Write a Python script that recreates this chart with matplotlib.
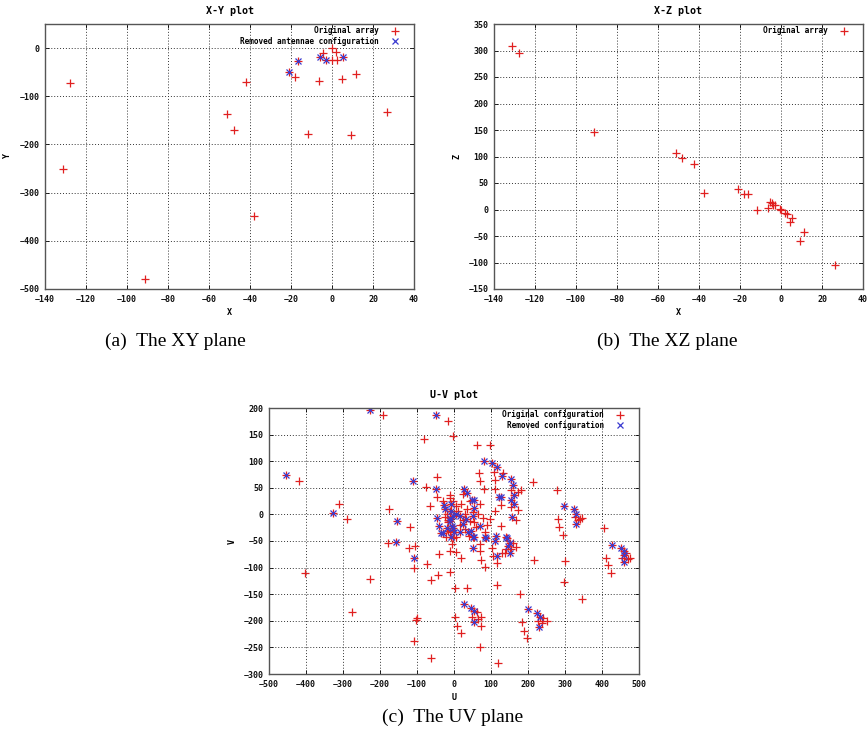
import matplotlib
matplotlib.use('Agg')
import matplotlib.pyplot as plt

# antenna positions, X-Y plane (original array, removed ones are in it too)
xy_x = [-131, -128, -91, -51, -48, -42, -38, -21, -18, -16.4, -11.6, -6.2,
        -5.9, -4.2, -3.1, -0.2, -0.2, 1.9, 2.6, 4.7, 5.2, 9.1, 11.7, 26.7]
xy_y = [-250, -73, -479, -137, -169, -71, -349, -50, -59, -26, -178, -68,
        -18, -10, -24, 0, -25, -8, -24, -64, -19, -181, -53, -133]
xy_removed_x = [-21, -16.4, -5.9, -3.1, 5.2]
xy_removed_y = [-50, -26, -18, -24, -19]

# X-Z plane
xz_x = [-131, -128, -91, -51, -48.3, -42.4, -37.6, -21.1, -17.9, -16.2, -11.5,
        -6.2, -5.6, -4.5, -3.7, -3.0, -0.5, 0, 2, 2.8, 4.4, 5.2, 11.2, 9.1, 26.5]
xz_z = [308, 295, 146, 107, 98, 85, 31, 39, 30, 30, -1.5,
        3, 15, 12, 8.5, 8, 0.6, -0.7, -6, -8.6, -23, -16, -43, -59, -105]

# U-V coverage, points only in the original configuration
uv_keep = [
    (-192, 186), (-15, 176), (-4, 147), (-82, 141), (-420, 63), (-45, 71),
    (-76, 51), (-46, 32), (-66, 16), (-12, 36), (-10, 30), (-310, 19),
    (-290, -9), (-177, 10), (-120, -24), (-17, -10), (-16, -14), (-178, -54),
    (-122, -63), (-106, -60), (-73, -93), (-40, -75), (-10, -68), (-6, -55),
    (6, -70), (-3, -45), (-12, -33), (-109, -100), (-44, -114), (-63, -123),
    (-10, -109), (2, -139), (-404, -111), (-227, -122), (-275, -184),
    (-104, -198), (-100, -194), (-107, -238), (-61, -270), (4, -193), (9, -209),
    (63, -184), (48, -192), (74, -192), (66, -196), (74, -209), (20, -222),
    (70, -250), (119, -279), (35, -138), (115, -133), (178, -149), (241, -195),
    (250, -201), (228, -201), (239, -205), (184, -202), (188, -219), (197, -233),
    (216, -85), (299, -88), (297, -127), (346, -159), (411, -82), (417, -96),
    (425, -110), (464, -72), (477, -82), (469, -84), (453, -82),
    (20, -82), (83, -98), (73, -85), (116, -92),
    (62, 131), (97, 131), (108, 79), (132, 78), (67, 78), (69, 62), (112, 64),
    (112, 48), (155, 45), (180, 45), (174, 42), (213, 60), (80, 48), (24, 39),
    (42, 26), (128, 17), (155, 14), (173, 8), (168, -11), (112, 7), (97, -8),
    (126, -22), (278, 45), (327, -4), (340, -8), (345, -6), (334, -10),
    (280, -8), (284, -24), (295, -38), (405, -26),
    (69, -56), (69, -68), (102, -64), (106, -78), (130, -72), (159, -54),
    (168, -62), (155, -65), (141, -65), (137, -72),
    (11, 7), (29, 1), (42, -12), (65, 1), (78, -7), (60, -24), (83, -34),
    (6, -43), (29, -28), (-12, 7), (-3, 26), (-18, 1), (-15, -31), (-21, -43),
    (5, 15), (20, 20), (35, 10), (50, 5), (-25, -5), (15, -20), (40, -40),
    (55, -15), (-5, -25), (25, -10), (70, 20), (90, -20), (-30, 25),
]
# U-V points of the removed configuration
uv_removed = [
    (-227, 197), (-50, 187), (-455, 75), (-112, 63), (-48, 48), (-326, 3),
    (-155, -12), (-27, 18), (-23, 11), (-45, -6), (-40, -22), (-36, -35),
    (-31, -35), (-20, -25), (-157, -52), (-109, -82),
    (26, -169), (47, -175), (54, -181), (54, -202), (200, -178), (224, -185),
    (232, -192), (229, -211), (459, -76), (428, -57), (450, -63), (460, -69),
    (459, -90),
    (82, 101), (104, 97), (115, 89), (130, 72), (154, 66), (159, 56), (161, 37),
    (28, 47), (36, 40), (49, 28), (55, 27), (126, 32), (122, 32), (153, 27),
    (161, 20), (157, -4), (298, 15), (323, 11), (331, 1), (329, -18),
    (51, -42), (51, -64), (86, -45), (110, -50), (117, -78), (144, -45),
    (150, -53), (147, -59), (151, -72),
    (54, 12), (-7, 20), (5, 1), (15, -3), (33, -9), (24, -18), (51, -3),
    (69, -21), (47, -32), (53, -43), (15, -34), (-3, -25), (38, -34), (-12, -6),
    (-8, 7), (-3, -3), (-12, -12), (-6, -21), (0, -34), (-9, -43), (83, -43),
    (114, -40), (141, -43),
]

red = '#e02020'
blue = '#3a3ad0'

plt.rcParams['font.family'] = 'DejaVu Sans Mono'
plt.rcParams['font.weight'] = 'bold'
plt.rcParams['font.size'] = 6

fig = plt.figure(figsize=(8.67, 7.39), dpi=100)


def style(ax, title, xl, yl, xlim, ylim):
    ax.set_title(title, pad=7, fontweight='bold')
    ax.set_xlabel(xl, labelpad=3, fontweight='bold')
    ax.set_ylabel(yl, labelpad=5, fontweight='bold')
    ax.set_xlim(xlim)
    ax.set_ylim(ylim)
    ax.grid(True, linestyle=(0, (1, 2)), color='#333333', linewidth=0.7)
    ax.tick_params(direction='in', length=3, width=0.6, labelsize=6,
                   top=True, right=True, pad=4, labelcolor='#111111')
    for s in ax.spines.values():
        s.set_color('#555555')
        s.set_linewidth(1.0)


def legend(ax):
    ax.legend(loc='upper right', bbox_to_anchor=(0.97, 1.0), borderaxespad=0,
              borderpad=0.3, markerfirst=False, frameon=False,
              handlelength=1.5, handletextpad=1.3, labelspacing=0.15,
              prop={'family': 'DejaVu Sans Mono', 'weight': 'bold',
                    'size': 5.6})


# X-Y plot
ax1 = fig.add_axes([45 / 867, 1 - 289 / 739, 369 / 867, 265 / 739])
ax1.plot(xy_x, xy_y, '+', color=red, ms=6, mew=0.9, label='Original array')
ax1.plot(xy_removed_x, xy_removed_y, 'x', color=blue, ms=5, mew=0.9,
         label='Removed antennae configuration')
style(ax1, 'X-Y plot', 'X', 'Y', (-140, 40), (-500, 50))
ax1.set_yticks(range(-500, 1, 100))
legend(ax1)

# X-Z plot
ax2 = fig.add_axes([494 / 867, 1 - 289 / 739, 369 / 867, 265 / 739])
ax2.plot(xz_x, xz_z, '+', color=red, ms=6, mew=0.9, label='Original array')
style(ax2, 'X-Z plot', 'X', 'Z', (-140, 40), (-150, 350))
ax2.set_yticks(range(-150, 351, 50))
legend(ax2)

# U-V plot
u_all = [p[0] for p in uv_keep] + [p[0] for p in uv_removed]
v_all = [p[1] for p in uv_keep] + [p[1] for p in uv_removed]
ax3 = fig.add_axes([269 / 867, 1 - 674 / 739, 370 / 867, 266 / 739])
ax3.plot(u_all, v_all, '+', color=red, ms=6, mew=0.9,
         label='Original configuration')
ax3.plot([p[0] for p in uv_removed], [p[1] for p in uv_removed], 'x',
         color=blue, ms=5, mew=0.9, label='Removed configuration')
style(ax3, 'U-V plot', 'U', 'V', (-500, 500), (-300, 200))
ax3.set_xticks(range(-500, 501, 100))
ax3.set_yticks(range(-300, 201, 50))
legend(ax3)

# sub-figure captions
cap = {'family': 'Liberation Serif', 'size': 14, 'weight': 'normal'}
fig.text(175 / 867, 1 - 341 / 739, '(a)  The XY plane', ha='center',
         va='center', fontdict=cap)
fig.text(667 / 867, 1 - 341 / 739, '(b)  The XZ plane', ha='center',
         va='center', fontdict=cap)
fig.text(453 / 867, 1 - 717 / 739, '(c)  The UV plane', ha='center',
         va='center', fontdict=cap)

fig.savefig('out.png', dpi=100)
